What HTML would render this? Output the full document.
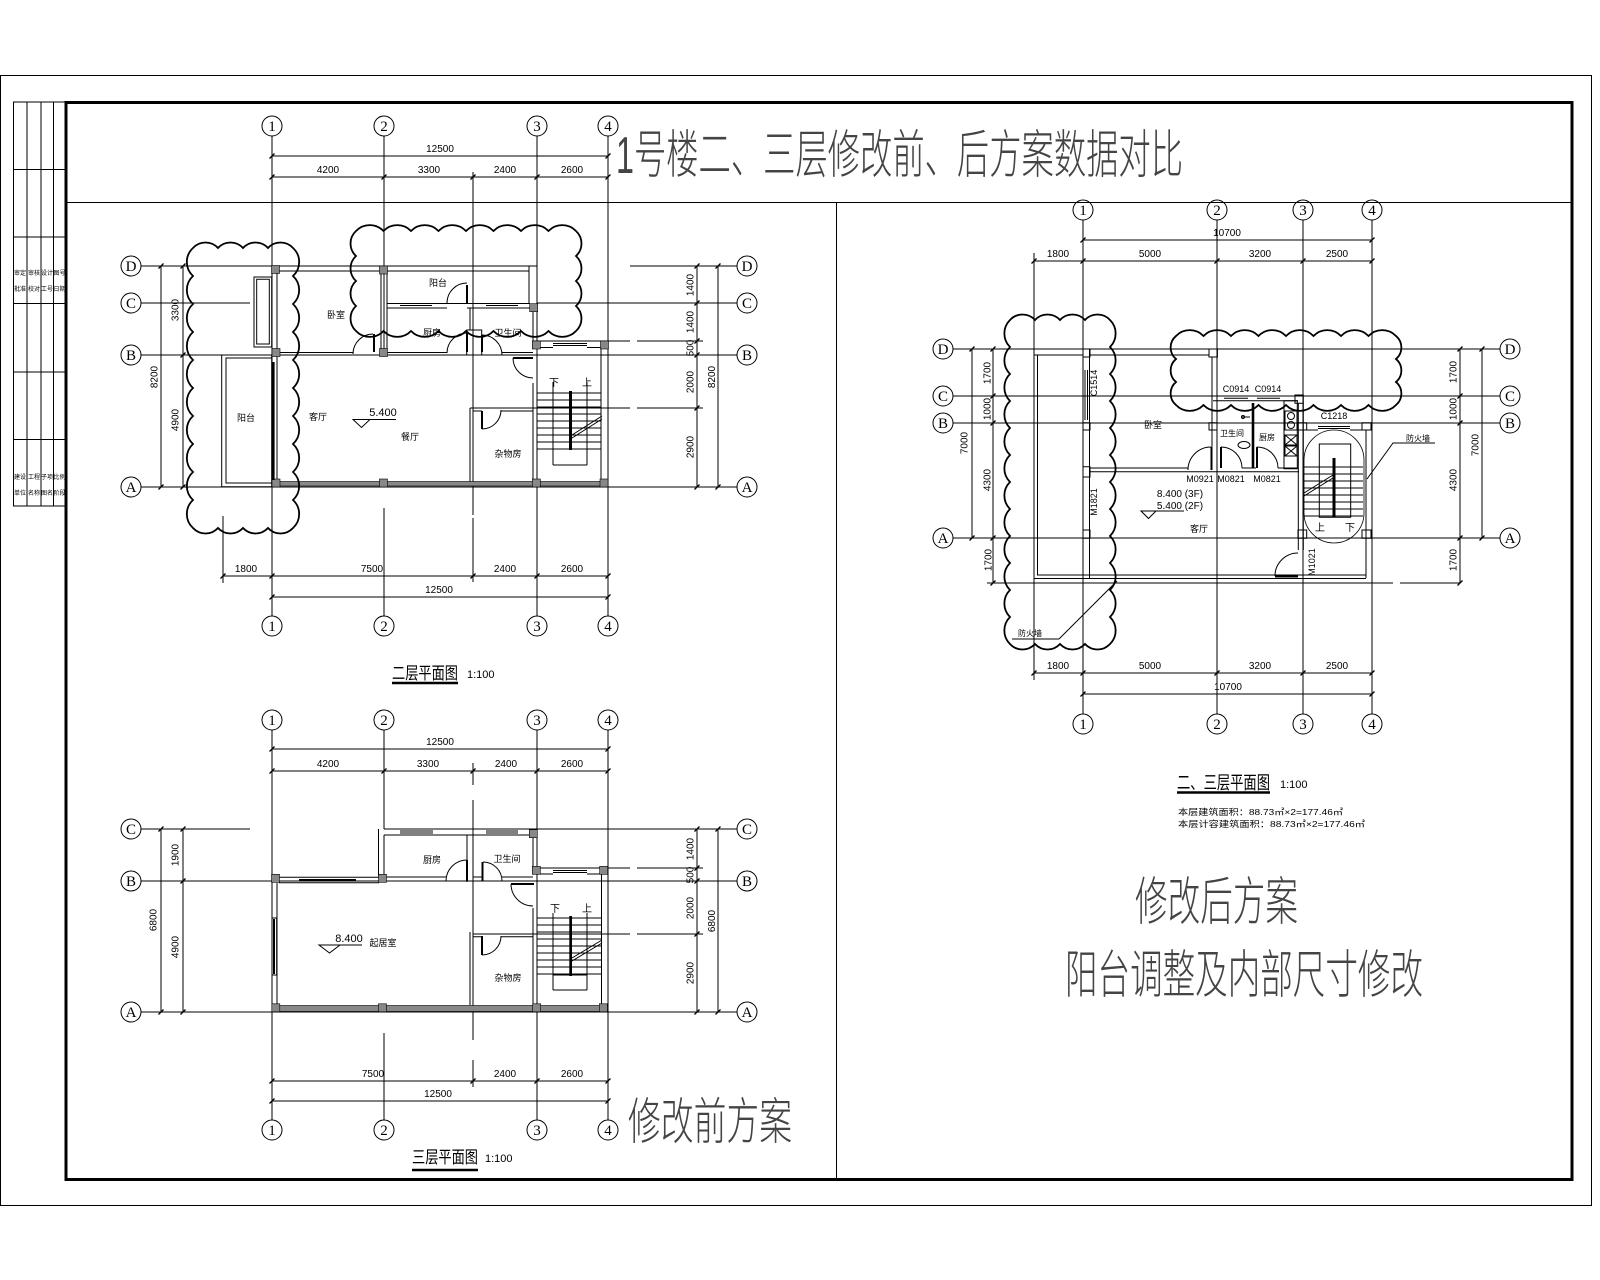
<!DOCTYPE html>
<html><head><meta charset="utf-8"><style>
html,body{margin:0;padding:0;background:#fff;}
svg{display:block;}
text{font-family:"Liberation Sans","Noto Sans CJK SC",sans-serif;fill:#000;stroke:none;}
.d{font-size:10px;text-anchor:middle;}
.c{font-family:"Liberation Serif","Noto Serif CJK SC",serif;font-size:15px;text-anchor:middle;}
.r{font-size:9px;text-anchor:middle;}
.s{font-size:8px;text-anchor:middle;}
.big{font-family:"Liberation Sans","Noto Sans CJK SC",sans-serif;font-weight:300;fill:#444;}
.tb{font-size:6px;text-anchor:middle;}
</style></head><body>
<svg width="1600" height="1280" viewBox="0 0 1600 1280" xmlns="http://www.w3.org/2000/svg">
<rect width="1600" height="1280" fill="#fff"/>

<!-- frames -->
<g fill="none" stroke="#000">
<rect x="0.5" y="75.5" width="1591" height="1130" stroke-width="1"/>
<rect x="66" y="102.5" width="1506" height="1077" stroke-width="3"/>
<line x1="66" y1="202.5" x2="1572" y2="202.5" stroke-width="1"/>
<line x1="836.5" y1="202" x2="836.5" y2="1178" stroke-width="1"/>
<rect x="13.5" y="102" width="52.5" height="404" stroke-width="1"/>
<path d="M27 102V506M41 102V506M53.5 102V506M13.5 169.5H66M13.5 237H66M13.5 303.5H66M13.5 372H66M13.5 439.5H66" stroke-width="1"/>
</g>
<g>
<text class="tb" x="20" y="275">审定</text><text class="tb" x="20" y="291">批准</text>
<text class="tb" x="34" y="275">审核</text><text class="tb" x="34" y="291">校对</text>
<text class="tb" x="47" y="275">设计</text><text class="tb" x="47" y="291">工号</text>
<text class="tb" x="59.5" y="275">图号</text><text class="tb" x="59.5" y="291">日期</text>
<text class="tb" x="20" y="479">建设</text><text class="tb" x="20" y="495">单位</text>
<text class="tb" x="34" y="479">工程</text><text class="tb" x="34" y="495">名称</text>
<text class="tb" x="47" y="479">子项</text><text class="tb" x="47" y="495">图名</text>
<text class="tb" x="59.5" y="479">比例</text><text class="tb" x="59.5" y="495">阶段</text>
</g>

<!-- big texts -->
<text class="big" x="616" y="173" font-size="52" textLength="567" lengthAdjust="spacingAndGlyphs">1号楼二、三层修改前、后方案数据对比</text>
<text class="big" x="628" y="1139" font-size="50" textLength="164" lengthAdjust="spacingAndGlyphs">修改前方案</text>
<text class="big" x="1135" y="920" font-size="52" textLength="163" lengthAdjust="spacingAndGlyphs">修改后方案</text>
<text class="big" x="1065" y="993" font-size="52" textLength="358" lengthAdjust="spacingAndGlyphs">阳台调整及内部尺寸修改</text>

<!-- ================= TOP-LEFT PLAN (二层) ================= -->
<g fill="none" stroke="#000" stroke-width="1">
<path d="M272 136V616M384 136V356M384 508V616M473 172V515M473 518V582M537 136V616M608 136V616"/>
<path d="M141 266H537M630 266H737M141 303H250M537 303H737M533 341H630M637 341H703M141 355H737M470 408H630M637 408H703M141 487H737"/>
<path d="M272 156H608M272 177H608M223 576H608M272 597H608M223 516V583M161 266V487M183 266V487M697 266V487M718 266V487"/>
<path stroke-width="1.3" d="M269.5 158.5l5 -5M605.5 158.5l5 -5M269.5 179.5l5 -5M381.5 179.5l5 -5M470.5 179.5l5 -5M534.5 179.5l5 -5M605.5 179.5l5 -5M220.5 578.5l5 -5M269.5 578.5l5 -5M470.5 578.5l5 -5M534.5 578.5l5 -5M605.5 578.5l5 -5M269.5 599.5l5 -5M605.5 599.5l5 -5M158.5 268.5l5 -5M158.5 489.5l5 -5M180.5 268.5l5 -5M180.5 357.5l5 -5M180.5 489.5l5 -5M694.5 268.5l5 -5M694.5 305.5l5 -5M694.5 343.5l5 -5M694.5 357.5l5 -5M694.5 410.5l5 -5M694.5 489.5l5 -5M715.5 268.5l5 -5M715.5 489.5l5 -5"/>
<circle cx="272" cy="126" r="10"/><circle cx="384" cy="126" r="10"/><circle cx="537" cy="126" r="10"/><circle cx="608" cy="126" r="10"/>
<circle cx="272" cy="626" r="10"/><circle cx="384" cy="626" r="10"/><circle cx="537" cy="626" r="10"/><circle cx="608" cy="626" r="10"/>
<circle cx="131" cy="266" r="10"/><circle cx="131" cy="303" r="10"/><circle cx="131" cy="355" r="10"/><circle cx="131" cy="487" r="10"/>
<circle cx="747" cy="266" r="10"/><circle cx="747" cy="303" r="10"/><circle cx="747" cy="355" r="10"/><circle cx="747" cy="487" r="10"/>
<path d="M276 271H380M387 271H529M277 273V349M254 277h17.7v70h-17.7zM256.7 279.3h12.6v64.7h-12.6zM381 274V349M387 274V349M529 266V303"/>
<path d="M387 308H447M467 308H530M387 303.5H530M400 305.5H432M486 305.5H518"/>
<path d="M279 352.5H353M387 352.5H447M502 352.5H533M470 308V330M466.7 330h15v25h-15z"/>
<path d="M533 308V349M540 347.5H553M587 347.5H601M553 343.5H587M553 345.5H587"/>
<path d="M533 383V482M601 349V481M473 411H482M501 411H533M470 408V482M473 411V482"/>
<path d="M277 356V481M221.7 355h50v131.7h-50zM226 358h46v125h-46z"/>
<path d="M467 283A20 20 0 0 0 447 303M373 334A20 20 0 0 0 353 354M467 333A20 20 0 0 0 447 353M482 335A20 20 0 0 1 502 355M513 358A20 20 0 0 0 533 378M482 429A19 19 0 0 0 501 410"/>
<path stroke-width="2" d="M467 285V303M374 334V352M467 333V352M482 335V352M513 358H533M482 411V429"/>
<path d="M537 393H601M537 400H601M537 407H601M537 414H601M537 421H601M537 428H601M537 435H601M537 442H601M537 449H601M553 382V465M587 382V465M553 465H587M572 435L602 416M572 438L602 419"/>
<path d="M353 419.5H396M353 419.5L370 419.5L361.5 427.5Z"/>
</g>
<g fill="#888" stroke="#000" stroke-width="0.6">
<rect x="271.5" y="265.5" width="8" height="8"/><rect x="379.5" y="266" width="8" height="8"/><rect x="272" y="348.5" width="8" height="8"/><rect x="379.5" y="348.5" width="8" height="8"/><rect x="529.7" y="303.7" width="8" height="8"/><rect x="532.3" y="341" width="8" height="8"/><rect x="600.5" y="341" width="8" height="8"/>
<rect x="272" y="481.5" width="336" height="4.5"/>
<rect x="272" y="479" width="8" height="8"/><rect x="379.5" y="479" width="8" height="8"/><rect x="532.3" y="479" width="8" height="8"/><rect x="600" y="479" width="8" height="8"/>
</g>
<rect x="272" y="362" width="2.6" height="118" fill="#000"/>
<rect x="569" y="391" width="3" height="59" fill="#000"/>
<path fill="none" stroke="#000" stroke-width="1.8" d="M193 248a17 17 0 0 1 25 0a17 17 0 0 1 25 0a17 17 0 0 1 25 0a17 17 0 0 1 25 0a19 19 0 0 1 0 28a19 19 0 0 1 0 28a19 19 0 0 1 0 28a19 19 0 0 1 0 28a19 19 0 0 1 0 28a19 19 0 0 1 0 28a19 19 0 0 1 0 28a19 19 0 0 1 0 28a19 19 0 0 1 0 28a19 19 0 0 1 0 28a17 17 0 0 1 -25 0a17 17 0 0 1 -25 0a17 17 0 0 1 -25 0a17 17 0 0 1 -25 0a19 19 0 0 1 0 -28a19 19 0 0 1 0 -28a19 19 0 0 1 0 -28a19 19 0 0 1 0 -28a19 19 0 0 1 0 -28a19 19 0 0 1 0 -28a19 19 0 0 1 0 -28a19 19 0 0 1 0 -28a19 19 0 0 1 0 -28a19 19 0 0 1 0 -28z"/>
<path fill="none" stroke="#000" stroke-width="1.8" d="M356 231a19 19 0 0 1 27.5 0a19 19 0 0 1 27.5 0a19 19 0 0 1 27.5 0a19 19 0 0 1 27.5 0a19 19 0 0 1 27.5 0a19 19 0 0 1 27.5 0a19 19 0 0 1 27.5 0a19 19 0 0 1 27.5 0a17 17 0 0 1 0 25a17 17 0 0 1 0 25a17 17 0 0 1 0 25a17 17 0 0 1 0 25a19 19 0 0 1 -27.5 0a19 19 0 0 1 -27.5 0a19 19 0 0 1 -27.5 0a19 19 0 0 1 -27.5 0a19 19 0 0 1 -27.5 0a19 19 0 0 1 -27.5 0a19 19 0 0 1 -27.5 0a19 19 0 0 1 -27.5 0a17 17 0 0 1 0 -25a17 17 0 0 1 0 -25a17 17 0 0 1 0 -25a17 17 0 0 1 0 -25z"/>
<g>
<text class="c" x="272" y="131">1</text><text class="c" x="384" y="131">2</text><text class="c" x="537" y="131">3</text><text class="c" x="608" y="131">4</text>
<text class="c" x="272" y="631">1</text><text class="c" x="384" y="631">2</text><text class="c" x="537" y="631">3</text><text class="c" x="608" y="631">4</text>
<text class="c" x="131" y="271">D</text><text class="c" x="131" y="308">C</text><text class="c" x="131" y="360">B</text><text class="c" x="131" y="492">A</text>
<text class="c" x="747" y="271">D</text><text class="c" x="747" y="308">C</text><text class="c" x="747" y="360">B</text><text class="c" x="747" y="492">A</text>
<text class="d" x="440" y="152">12500</text>
<text class="d" x="328" y="173">4200</text><text class="d" x="429" y="173">3300</text><text class="d" x="505" y="173">2400</text><text class="d" x="572" y="173">2600</text>
<text class="d" x="246" y="572">1800</text><text class="d" x="372" y="572">7500</text><text class="d" x="505" y="572">2400</text><text class="d" x="572" y="572">2600</text>
<text class="d" x="439" y="593">12500</text>
<text class="d" transform="translate(157.5 377) rotate(-90)">8200</text>
<text class="d" transform="translate(178.5 310) rotate(-90)">3300</text>
<text class="d" transform="translate(178.5 420) rotate(-90)">4900</text>
<text class="d" transform="translate(693.5 285) rotate(-90)">1400</text>
<text class="d" transform="translate(693.5 322) rotate(-90)">1400</text>
<text class="d" transform="translate(693.5 348) rotate(-90)">500</text>
<text class="d" transform="translate(693.5 382) rotate(-90)">2000</text>
<text class="d" transform="translate(693.5 447) rotate(-90)">2900</text>
<text class="d" transform="translate(715 377) rotate(-90)">8200</text>
<text class="r" x="336" y="318">卧室</text><text class="r" x="438" y="286">阳台</text><text class="r" x="432" y="336">厨房</text><text class="r" x="508" y="336">卫生间</text>
<text class="r" x="246" y="421">阳台</text><text class="r" x="318" y="420">客厅</text><text class="r" x="410" y="440">餐厅</text><text class="r" x="508" y="457">杂物房</text>
<text class="d" x="383" y="416" style="font-size:11px">5.400</text>
<text class="r" x="554" y="386" style="font-size:10px">下</text><text class="r" x="587" y="386" style="font-size:10px">上</text>
<text x="392" y="679" font-size="17" textLength="66" lengthAdjust="spacingAndGlyphs">二层平面图</text>
<text x="467" y="678" font-size="11">1:100</text>
</g>
<line x1="392" y1="683" x2="458" y2="683" stroke="#000" stroke-width="2.5"/>

<!-- ================= BOTTOM-LEFT PLAN (三层) ================= -->
<g fill="none" stroke="#000" stroke-width="1">
<path d="M272 730V1120M384 730V829M384 1033V1120M473 763V785M473 800V1040M473 1060V1087M537 730V1120M608 730V1120"/>
<path d="M141 829H250M384 829H737M537 868H630M637 868H703M141 881H737M473 934H630M637 934H703M141 1012H737"/>
<path d="M272 749H608M272 771H608M272 1081H608M272 1101H608M161 829V1012M183 829V1012M697 829V1012M718 829V1012"/>
<path stroke-width="1.3" d="M269.5 751.5l5 -5M605.5 751.5l5 -5M269.5 773.5l5 -5M381.5 773.5l5 -5M470.5 773.5l5 -5M534.5 773.5l5 -5M605.5 773.5l5 -5M269.5 1083.5l5 -5M470.5 1083.5l5 -5M534.5 1083.5l5 -5M605.5 1083.5l5 -5M269.5 1103.5l5 -5M605.5 1103.5l5 -5M158.5 831.5l5 -5M158.5 1014.5l5 -5M180.5 831.5l5 -5M180.5 883.5l5 -5M180.5 1014.5l5 -5M694.5 831.5l5 -5M694.5 870.5l5 -5M694.5 883.5l5 -5M694.5 936.5l5 -5M694.5 1014.5l5 -5M715.5 831.5l5 -5M715.5 1014.5l5 -5"/>
<circle cx="272" cy="720" r="10"/><circle cx="384" cy="720" r="10"/><circle cx="537" cy="720" r="10"/><circle cx="608" cy="720" r="10"/>
<circle cx="272" cy="1130" r="10"/><circle cx="384" cy="1130" r="10"/><circle cx="537" cy="1130" r="10"/><circle cx="608" cy="1130" r="10"/>
<circle cx="131" cy="829" r="10"/><circle cx="131" cy="881" r="10"/><circle cx="131" cy="1012" r="10"/>
<circle cx="747" cy="829" r="10"/><circle cx="747" cy="881" r="10"/><circle cx="747" cy="1012" r="10"/>
<path d="M279 877.3H379M279 882.7H379M384 835H530M400 831H433M400 833H433M486 831H518M486 833H518M378.5 829V876M384 835V876M533 837V866"/>
<path d="M467 835V882M473 835V882M384 877H446M473 877H482M502 877H533"/>
<path d="M540 874H553M587 874H600M553 870.5H587M553 872.5H587M533 908V1005M601.5 874V1005"/>
<path d="M473 936.7H482M501 936.7H533M470 932V1005M473 936V1005"/>
<path d="M277 883V1005M272 918h4.7v57h-4.7z"/>
<path d="M467 860A21 21 0 0 0 446 881M483 862A19 19 0 0 1 502 881M511 884A22 22 0 0 0 533 906M482 955A19 19 0 0 0 501 936"/>
<path stroke-width="2" d="M467 860V881M482.5 862V881M511 884H534M482 936V955M274 919V974"/>
<path d="M537 918H601M537 925H601M537 932H601M537 939H601M537 946H601M537 953H601M537 960H601M537 967H601M537 974H601M553 913V990M587 913V990M553 990H587M553 975H587M572 958L602 940M572 961L602 943"/>
<path d="M319 945H362M319 945L340 945L329.5 953Z"/>
</g>
<path d="M299 880H356" stroke="#000" stroke-width="2"/>
<g fill="#888" stroke="#000" stroke-width="0.6">
<rect x="271.5" y="874.3" width="8" height="8"/><rect x="378.5" y="874.3" width="8" height="8"/><rect x="529.3" y="829.7" width="8" height="8"/><rect x="532.3" y="866.3" width="8" height="8"/><rect x="599.7" y="866.3" width="8" height="8"/>
<rect x="272" y="1005.5" width="336" height="6"/>
<rect x="271.8" y="1003.8" width="8" height="8"/><rect x="378.5" y="1003.8" width="8" height="8"/><rect x="532.7" y="1003.8" width="8" height="8"/><rect x="599.3" y="1003.8" width="8" height="8"/>
</g>
<rect x="569.3" y="916" width="2.7" height="60" fill="#000"/>
<g>
<text class="c" x="272" y="725">1</text><text class="c" x="384" y="725">2</text><text class="c" x="537" y="725">3</text><text class="c" x="608" y="725">4</text>
<text class="c" x="272" y="1135">1</text><text class="c" x="384" y="1135">2</text><text class="c" x="537" y="1135">3</text><text class="c" x="608" y="1135">4</text>
<text class="c" x="131" y="834">C</text><text class="c" x="131" y="886">B</text><text class="c" x="131" y="1017">A</text>
<text class="c" x="747" y="834">C</text><text class="c" x="747" y="886">B</text><text class="c" x="747" y="1017">A</text>
<text class="d" x="440" y="745">12500</text>
<text class="d" x="328" y="767">4200</text><text class="d" x="428" y="767">3300</text><text class="d" x="506" y="767">2400</text><text class="d" x="572" y="767">2600</text>
<text class="d" x="373" y="1077">7500</text><text class="d" x="505" y="1077">2400</text><text class="d" x="572" y="1077">2600</text>
<text class="d" x="438" y="1097">12500</text>
<text class="d" transform="translate(156.5 920) rotate(-90)">6800</text>
<text class="d" transform="translate(178.5 855) rotate(-90)">1900</text>
<text class="d" transform="translate(178.5 947) rotate(-90)">4900</text>
<text class="d" transform="translate(693.5 849) rotate(-90)">1400</text>
<text class="d" transform="translate(693.5 875) rotate(-90)">500</text>
<text class="d" transform="translate(693.5 908) rotate(-90)">2000</text>
<text class="d" transform="translate(693.5 973) rotate(-90)">2900</text>
<text class="d" transform="translate(715 921) rotate(-90)">6800</text>
<text class="r" x="432" y="863">厨房</text><text class="r" x="507" y="862">卫生间</text><text class="r" x="383" y="946">起居室</text><text class="r" x="508" y="981">杂物房</text>
<text class="d" x="349" y="942" style="font-size:11px">8.400</text>
<text class="r" x="555" y="912" style="font-size:10px">下</text><text class="r" x="587" y="912" style="font-size:10px">上</text>
<text x="412" y="1163" font-size="17" textLength="66" lengthAdjust="spacingAndGlyphs">三层平面图</text>
<text x="485" y="1162" font-size="11">1:100</text>
</g>
<line x1="412" y1="1170" x2="478" y2="1170" stroke="#000" stroke-width="2.5"/>

<!-- ================= RIGHT PLAN (二、三层) ================= -->
<g fill="none" stroke="#000" stroke-width="1">
<path d="M1083 220V714M1217 220V714M1303 220V714M1372 220V714"/>
<path d="M953 349H1500M953 396H1500M953 423H1500M953 538H1500M987 583H1393M1400 583H1460"/>
<path d="M1083 240H1372M1034 261H1372M1034 673H1372M1083 694H1372M1034 253V349M1034 578V680M972 349V538M993 349V583M1460 349V583M1482 349V538"/>
<path stroke-width="1.3" d="M1080.5 242.5l5 -5M1369.5 242.5l5 -5M1031.5 263.5l5 -5M1080.5 263.5l5 -5M1214.5 263.5l5 -5M1300.5 263.5l5 -5M1369.5 263.5l5 -5M1031.5 675.5l5 -5M1080.5 675.5l5 -5M1214.5 675.5l5 -5M1300.5 675.5l5 -5M1369.5 675.5l5 -5M1080.5 696.5l5 -5M1369.5 696.5l5 -5M969.5 351.5l5 -5M969.5 540.5l5 -5M990.5 351.5l5 -5M990.5 398.5l5 -5M990.5 425.5l5 -5M990.5 540.5l5 -5M990.5 585.5l5 -5M1457.5 351.5l5 -5M1457.5 398.5l5 -5M1457.5 425.5l5 -5M1457.5 540.5l5 -5M1457.5 585.5l5 -5M1479.5 351.5l5 -5M1479.5 540.5l5 -5"/>
<circle cx="1083" cy="210" r="10"/><circle cx="1217" cy="210" r="10"/><circle cx="1303" cy="210" r="10"/><circle cx="1372" cy="210" r="10"/>
<circle cx="1083" cy="724" r="10"/><circle cx="1217" cy="724" r="10"/><circle cx="1303" cy="724" r="10"/><circle cx="1372" cy="724" r="10"/>
<circle cx="943" cy="349" r="10"/><circle cx="943" cy="396" r="10"/><circle cx="943" cy="423" r="10"/><circle cx="943" cy="538" r="10"/>
<circle cx="1510" cy="349" r="10"/><circle cx="1510" cy="396" r="10"/><circle cx="1510" cy="423" r="10"/><circle cx="1510" cy="538" r="10"/>
<path d="M1034 349V578M1037.5 355V575M1034 355H1083M1037 575H1366M1034 578.5H1366M1089.5 349V578"/>
<path d="M1083 349h7v8h-7zM1083 422.7h7v7.3h-7zM1083 466.7h7v10.3h-7zM1083 530h7v8.3h-7zM1085 370V420M1087.5 370V420"/>
<path d="M1090 355H1209M1209 349h8.4v8h-8.4zM1212 357V447M1217 357V447M1213 400.7H1298M1224 398.3H1248M1257 398.3H1280M1295 395h8.3v8.3h-8.3zM1209 422.7h8v7.3h-8z"/>
<path d="M1090 468H1188M1090 471.7H1299M1242 468H1256M1278 468H1298M1298.3 403V550M1303.3 403V550"/>
<path d="M1284 400.7h13.3v68h-13.3zM1285 411h12v19h-12zM1285 435h12v10h-12zM1285 446h12v10h-12zM1285 435l12 10M1297 435l-12 10M1285 446l12 10M1297 446l-12 10"/>
<circle cx="1291" cy="416" r="3.5"/><circle cx="1291" cy="425" r="3.5"/>
<ellipse cx="1244" cy="445" rx="6" ry="3.5"/><path d="M1241.7 417H1250"/><circle cx="1243" cy="417" r="1.5"/>
<path d="M1303 430H1318M1350 430H1366M1318 426.5H1350M1318 428.5H1350M1366 430V578M1298 422.7h8.7v7.3h-8.7zM1362 422.7h9v7.3h-9zM1298 530h8.7v8.3h-8.7zM1362 530h9v8.3h-9z"/>
<rect x="1304" y="430" width="60" height="113" rx="30" ry="30" stroke-width="0.8"/>
<path d="M1304 467H1363M1304 474H1363M1304 481H1363M1304 488H1363M1304 495H1363M1304 502H1363M1304 509H1363M1304 516H1363M1319.3 444h31.4v73.3h-31.4zM1304 493L1333 475M1304 496L1333 478"/>
<path d="M1211 447A23 23 0 0 0 1188 470M1221 447A21 21 0 0 1 1242 468M1257 447A21 21 0 0 1 1278 468M1275 576A23 23 0 0 1 1298 553"/>
<path stroke-width="2" d="M1211.5 447V470M1221 447V468M1257 447V468M1275 576.5H1298"/>
<path d="M1141 511H1184M1141 511L1156 511L1148.5 518.5Z"/>
<path d="M1367 479L1393 443H1435M1059 639L1117 581M1012 639H1059"/>
</g>
<rect x="1251.7" y="403" width="2.6" height="65" fill="#000"/>
<rect x="1332.5" y="458" width="3" height="59" fill="#000"/>
<path fill="none" stroke="#000" stroke-width="1.8" d="M1010 320a17 17 0 0 1 25 0a17 17 0 0 1 25 0a17 17 0 0 1 25 0a17 17 0 0 1 25 0a19 19 0 0 1 0 27a19 19 0 0 1 0 27a19 19 0 0 1 0 27a19 19 0 0 1 0 27a19 19 0 0 1 0 27a19 19 0 0 1 0 27a19 19 0 0 1 0 27a19 19 0 0 1 0 27a19 19 0 0 1 0 27a19 19 0 0 1 0 27a19 19 0 0 1 0 27a19 19 0 0 1 0 27a17 17 0 0 1 -25 0a17 17 0 0 1 -25 0a17 17 0 0 1 -25 0a17 17 0 0 1 -25 0a19 19 0 0 1 0 -27a19 19 0 0 1 0 -27a19 19 0 0 1 0 -27a19 19 0 0 1 0 -27a19 19 0 0 1 0 -27a19 19 0 0 1 0 -27a19 19 0 0 1 0 -27a19 19 0 0 1 0 -27a19 19 0 0 1 0 -27a19 19 0 0 1 0 -27a19 19 0 0 1 0 -27a19 19 0 0 1 0 -27z"/>
<path fill="none" stroke="#000" stroke-width="1.8" d="M1176 336a19 19 0 0 1 27.5 0a19 19 0 0 1 27.5 0a19 19 0 0 1 27.5 0a19 19 0 0 1 27.5 0a19 19 0 0 1 27.5 0a19 19 0 0 1 27.5 0a19 19 0 0 1 27.5 0a19 19 0 0 1 27.5 0a15 15 0 0 1 0 23a15 15 0 0 1 0 23a15 15 0 0 1 0 23a19 19 0 0 1 -27.5 0a19 19 0 0 1 -27.5 0a19 19 0 0 1 -27.5 0a19 19 0 0 1 -27.5 0a19 19 0 0 1 -27.5 0a19 19 0 0 1 -27.5 0a19 19 0 0 1 -27.5 0a19 19 0 0 1 -27.5 0a15 15 0 0 1 0 -23a15 15 0 0 1 0 -23a15 15 0 0 1 0 -23z"/>
<g>
<text class="c" x="1083" y="215">1</text><text class="c" x="1217" y="215">2</text><text class="c" x="1303" y="215">3</text><text class="c" x="1372" y="215">4</text>
<text class="c" x="1083" y="729">1</text><text class="c" x="1217" y="729">2</text><text class="c" x="1303" y="729">3</text><text class="c" x="1372" y="729">4</text>
<text class="c" x="943" y="354">D</text><text class="c" x="943" y="401">C</text><text class="c" x="943" y="428">B</text><text class="c" x="943" y="543">A</text>
<text class="c" x="1510" y="354">D</text><text class="c" x="1510" y="401">C</text><text class="c" x="1510" y="428">B</text><text class="c" x="1510" y="543">A</text>
<text class="d" x="1227" y="236">10700</text>
<text class="d" x="1058" y="257">1800</text><text class="d" x="1150" y="257">5000</text><text class="d" x="1260" y="257">3200</text><text class="d" x="1337" y="257">2500</text>
<text class="d" x="1058" y="669">1800</text><text class="d" x="1150" y="669">5000</text><text class="d" x="1260" y="669">3200</text><text class="d" x="1337" y="669">2500</text>
<text class="d" x="1228" y="690">10700</text>
<text class="d" transform="translate(967.5 443) rotate(-90)">7000</text>
<text class="d" transform="translate(990.5 373) rotate(-90)">1700</text>
<text class="d" transform="translate(990.5 409) rotate(-90)">1000</text>
<text class="d" transform="translate(990.5 480) rotate(-90)">4300</text>
<text class="d" transform="translate(991.5 560) rotate(-90)">1700</text>
<text class="d" transform="translate(1456.5 372) rotate(-90)">1700</text>
<text class="d" transform="translate(1456.5 409) rotate(-90)">1000</text>
<text class="d" transform="translate(1456.5 480) rotate(-90)">4300</text>
<text class="d" transform="translate(1456.5 560) rotate(-90)">1700</text>
<text class="d" transform="translate(1478.5 445) rotate(-90)">7000</text>
<text class="d" x="1236" y="392" style="font-size:9px">C0914</text><text class="d" x="1268" y="392" style="font-size:9px">C0914</text>
<text class="d" x="1334" y="419" style="font-size:9px">C1218</text>
<text class="d" x="1200" y="482" style="font-size:9px">M0921</text><text class="d" x="1231" y="482" style="font-size:9px">M0821</text><text class="d" x="1267" y="482" style="font-size:9px">M0821</text>
<text class="d" transform="translate(1097 383) rotate(-90)" style="font-size:9px">C1514</text>
<text class="d" transform="translate(1097 502) rotate(-90)" style="font-size:9px">M1821</text>
<text class="d" transform="translate(1315 562) rotate(-90)" style="font-size:9px">M1021</text>
<text class="s" x="1232" y="436">卫生间</text><text class="s" x="1267" y="440">厨房</text>
<text class="r" x="1153" y="428">卧室</text><text class="r" x="1199" y="532">客厅</text>
<text class="d" x="1180" y="497">8.400 (3F)</text><text class="d" x="1180" y="509">5.400 (2F)</text>
<text class="r" x="1320" y="531" style="font-size:10px">上</text><text class="r" x="1350" y="531" style="font-size:10px">下</text>
<text class="s" x="1418" y="441">防火墙</text><text class="s" x="1030" y="636">防火墙</text>
<text x="1177" y="789" font-size="18" textLength="93" lengthAdjust="spacingAndGlyphs">二、三层平面图</text>
<text x="1280" y="788" font-size="11">1:100</text>
<text x="1178" y="815" font-size="8.5" textLength="165" lengthAdjust="spacingAndGlyphs">本层建筑面积：88.73㎡×2=177.46㎡</text>
<text x="1178" y="827" font-size="8.5" textLength="187" lengthAdjust="spacingAndGlyphs">本层计容建筑面积：88.73㎡×2=177.46㎡</text>
</g>
<line x1="1177" y1="792.5" x2="1270" y2="792.5" stroke="#000" stroke-width="2.5"/>
</svg>
</body></html>
